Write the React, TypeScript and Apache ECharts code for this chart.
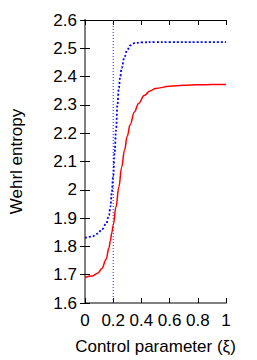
import React, { useEffect, useRef } from "react";
import * as echarts from "echarts";

const redX = [0, 0.05, 0.09, 0.12, 0.15, 0.17, 0.18, 0.19, 0.2, 0.22, 0.24, 0.26, 0.28, 0.3, 0.32, 0.35, 0.38, 0.42, 0.46, 0.5, 0.6, 0.7, 0.8, 0.9, 1.0];
const redY = [1.69, 1.695, 1.705, 1.722, 1.755, 1.795, 1.82, 1.848, 1.875, 1.94, 2.01, 2.08, 2.14, 2.19, 2.23, 2.275, 2.305, 2.333, 2.349, 2.358, 2.366, 2.369, 2.371, 2.372, 2.372];

const blueX = [0, 0.05, 0.09, 0.12, 0.15, 0.17, 0.18, 0.19, 0.2, 0.21, 0.22, 0.23, 0.24, 0.25, 0.26, 0.28, 0.3, 0.32, 0.35, 0.4, 0.5, 0.6, 0.8, 1.0];
const blueY = [1.83, 1.835, 1.845, 1.86, 1.88, 1.91, 1.94, 1.99, 2.05, 2.13, 2.21, 2.3, 2.36, 2.4, 2.43, 2.47, 2.495, 2.51, 2.518, 2.521, 2.522, 2.522, 2.522, 2.522];

const criticalX = [0.2, 0.2];
const criticalY = [1.6, 2.6];
const xTitle = "Control parameter (ξ)";
const yTitle = "Wehrl entropy";

const FONT = "Liberation Sans";

export default function App() {
  const ref = useRef<HTMLDivElement>(null);
  useEffect(() => {
    if (!ref.current) return;
    const chart = echarts.init(ref.current, null, { renderer: "svg" });
    const tickStyle = { show: true, inside: true, length: 5, lineStyle: { color: "#000", width: 1 } };
    const label = { fontFamily: FONT, fontSize: 17, color: "#000" };
    chart.setOption({
      animation: false,
      grid: { left: 84, right: 31, top: 20, bottom: 55, containLabel: false },
      xAxis: [
        {
          type: "value", min: 0, max: 1, interval: 0.2, position: "bottom",
          axisLine: { show: true, lineStyle: { color: "#808080", width: 2 } },
          axisTick: tickStyle,
          axisLabel: { ...label, margin: 9 },
          splitLine: { show: false },
          name: xTitle, nameLocation: "middle", nameGap: 35,
          nameTextStyle: { fontFamily: FONT, fontSize: 17, color: "#000" },
        },
        {
          type: "value", min: 0, max: 1, interval: 0.2, position: "top",
          axisLine: { show: true, lineStyle: { color: "#000", width: 1 } },
          axisTick: tickStyle,
          axisLabel: { show: false },
          splitLine: { show: false },
        },
      ],
      yAxis: [
        {
          type: "value", min: 1.6, max: 2.6, interval: 0.1, position: "left",
          axisLine: { show: true, lineStyle: { color: "#808080", width: 2 } },
          axisTick: tickStyle,
          axisLabel: { ...label, margin: 8, formatter: (v: number) => String(Math.round(v * 10) / 10) },
          splitLine: { show: false },
          name: yTitle, nameLocation: "middle", nameGap: 60,
          nameTextStyle: { fontFamily: FONT, fontSize: 17, color: "#000" },
        },
        {
          type: "value", min: 1.6, max: 2.6, interval: 0.1, position: "right",
          axisLine: { show: true, lineStyle: { color: "#808080", width: 2 } },
          axisTick: tickStyle,
          axisLabel: { show: false },
          splitLine: { show: false },
        },
      ],
      series: [
        {
          type: "line", xAxisIndex: 0, yAxisIndex: 0, z: 1,
          data: criticalX.map((x, i) => [x, criticalY[i]]),
          symbol: "none",
          lineStyle: { color: "#2020ff", width: 1, type: [1, 2] },
        },
        {
          type: "line", xAxisIndex: 0, yAxisIndex: 0, z: 2,
          data: redX.map((x, i) => [x, redY[i]]),
          smooth: 0.4, smoothMonotone: "x", symbol: "none",
          lineStyle: { color: "#ff0000", width: 1.5 },
        },
        {
          type: "line", xAxisIndex: 0, yAxisIndex: 0, z: 3,
          data: blueX.map((x, i) => [x, blueY[i]]),
          smooth: 0.4, smoothMonotone: "x", symbol: "none",
          lineStyle: { color: "#0000ff", width: 1.8, type: [2, 2] },
        },
      ],
    });
    return () => chart.dispose();
  }, []);
  return <div ref={ref} style={{ width: 257, height: 360, position: "absolute", left: 0, top: 0 }} />;
}
